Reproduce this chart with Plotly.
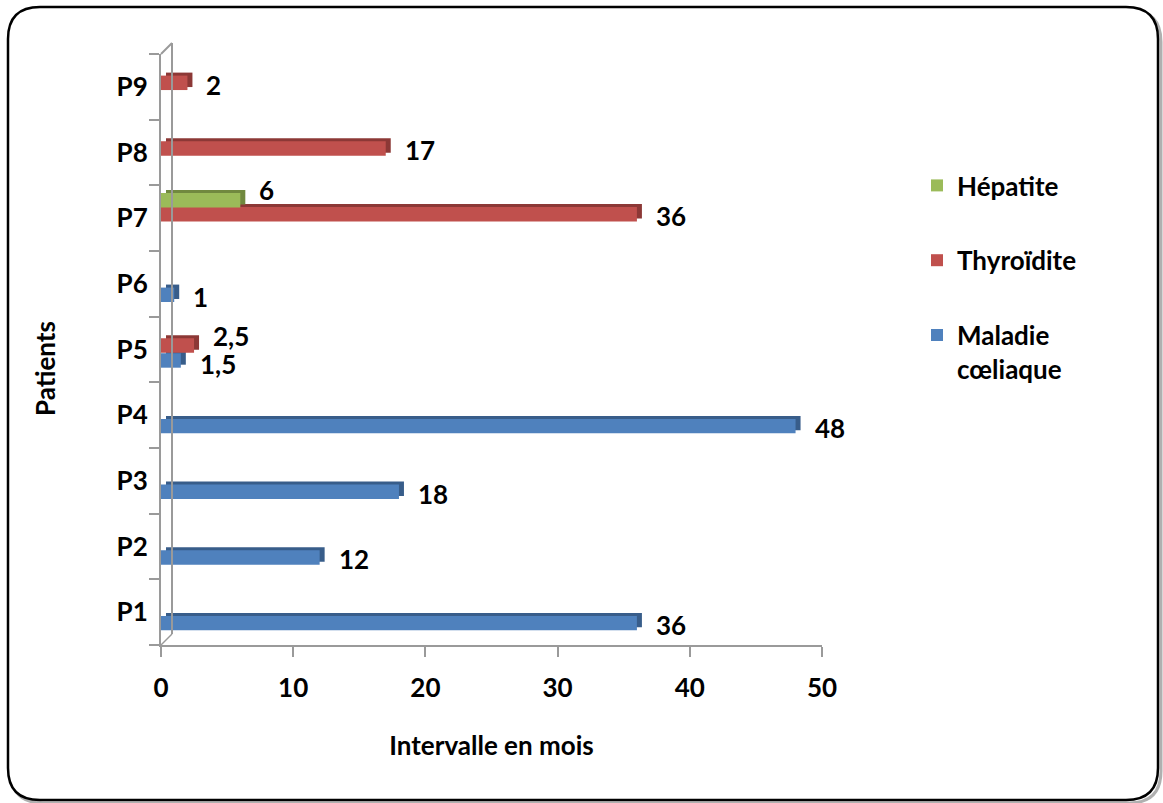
import plotly.graph_objects as go

# ---- data -------------------------------------------------------------
patients = ["P1", "P2", "P3", "P4", "P5", "P6", "P7", "P8", "P9"]
maladie_coeliaque = [36, 12, 18, 48, 1.5, 1, None, None, None]
thyroidite = [None, None, None, None, 2.5, None, 36, 17, 2]
hepatite = [None, None, None, None, None, None, 6, None, None]
x_ticks = [0, 10, 20, 30, 40, 50]

# ---- page geometry (pixels) -------------------------------------------
W, H = 1163, 803
L, R, T, B = 161, 822, 54, 645
X_MAX = 50
PX_PER_X = (R - L) / X_MAX
PX_PER_CAT = (B - T) / len(patients)

FONT = "Lato"
FS = 26
AXIS_GREY = "#9a9a9a"

def px_x(px):
    return (px - L) / (R - L)

def px_y(py):
    return (B - py) / (B - T)

BAR_W = 0.22
DEPTH_X = 5 / PX_PER_X          # extrusion to the right, in axis units
DEPTH_Y = 3 / PX_PER_CAT        # extrusion upward, in category units

series = [
    # name, values, face colour, side colour, slot offset, legend rank
    ("Maladie<br>cœliaque", maladie_coeliaque, "#4F81BD", "#385D8A", -0.277, 3),
    ("Thyroïdite", thyroidite, "#C0504D", "#8C3836", -0.049, 2),
    ("Hépatite", hepatite, "#9BBB59", "#71893F", 0.164, 1),
]

fig = go.Figure()

# darker extruded sides, drawn on the shifted base axis underneath
for name, vals, face, side, off, rank in series:
    fig.add_trace(go.Bar(
        y=patients, x=vals, orientation="h",
        marker=dict(color=side, line=dict(width=0)),
        width=BAR_W, offset=off + DEPTH_Y,
        xaxis="x", yaxis="y", showlegend=False, hoverinfo="skip",
    ))

# front faces of the bars on the visible value axis
for name, vals, face, side, off, rank in series:
    fig.add_trace(go.Bar(
        y=patients, x=vals, orientation="h", name=name,
        marker=dict(color=face, line=dict(width=0)),
        width=BAR_W, offset=off, legendrank=rank,
        legendgroup=name,
        xaxis="x2", yaxis="y",
    ))

text_font = dict(family=FONT, size=FS, color="black", weight="bold")

# value labels (decimal comma), placed right of each bar end
label_nudge = {("Hépatite", "P7"): 10, ("Thyroïdite", "P5"): 9, ("Maladie<br>cœliaque", "P5"): -4}
annotations = []
for name, vals, face, side, off, rank in series:
    for i, (p, v) in enumerate(zip(patients, vals)):
        if v is None:
            continue
        annotations.append(dict(
            x=v, y=i + off + BAR_W / 2, xref="x2", yref="y",
            text=f"{v:g}".replace(".", ","),
            showarrow=False, xanchor="left", yanchor="middle",
            xshift=17, yshift=label_nudge.get((name, p), -2),
            font=text_font,
        ))

# category axis title
annotations.append(dict(
    x=px_x(45), y=px_y(369), xref="paper", yref="paper",
    text="Patients", textangle=-90, showarrow=False,
    xanchor="center", yanchor="middle", font=text_font,
))

# chart frame with rounded corners and a soft shadow
def rounded_rect(x0, y0, x1, y1, r):
    return (f"M {px_x(x0 + r)} {px_y(y0)} L {px_x(x1 - r)} {px_y(y0)} "
            f"Q {px_x(x1)} {px_y(y0)} {px_x(x1)} {px_y(y0 + r)} "
            f"L {px_x(x1)} {px_y(y1 - r)} "
            f"Q {px_x(x1)} {px_y(y1)} {px_x(x1 - r)} {px_y(y1)} "
            f"L {px_x(x0 + r)} {px_y(y1)} "
            f"Q {px_x(x0)} {px_y(y1)} {px_x(x0)} {px_y(y1 - r)} "
            f"L {px_x(x0)} {px_y(y0 + r)} "
            f"Q {px_x(x0)} {px_y(y0)} {px_x(x0 + r)} {px_y(y0)} Z")

shapes = [
    dict(type="path", xref="paper", yref="paper",
         path=rounded_rect(11, 10, 1161, 803, 32),
         line=dict(color="#b0b0b0", width=3), layer="below"),
    dict(type="path", xref="paper", yref="paper",
         path=rounded_rect(8, 7, 1158, 800, 32),
         line=dict(color="black", width=2.5), fillcolor="white", layer="below"),
    # side wall behind the category axis
    dict(type="line", xref="paper", yref="paper",
         x0=px_x(172), y0=px_y(43), x1=px_x(172), y1=px_y(634),
         line=dict(color=AXIS_GREY, width=2)),
    dict(type="line", xref="paper", yref="paper",
         x0=px_x(L), y0=px_y(T), x1=px_x(172), y1=px_y(43),
         line=dict(color=AXIS_GREY, width=2)),
    dict(type="line", xref="paper", yref="paper",
         x0=px_x(L), y0=px_y(B), x1=px_x(172), y1=px_y(634),
         line=dict(color=AXIS_GREY, width=1.5)),
]

fig.update_layout(
    width=W, height=H,
    margin=dict(l=L, r=W - R, t=T, b=H - B, pad=0),
    paper_bgcolor="white", plot_bgcolor="rgba(0,0,0,0)",
    barmode="overlay",
    font=dict(family=FONT, size=FS, color="black"),
    xaxis=dict(range=[-DEPTH_X, X_MAX - DEPTH_X], visible=False, fixedrange=True),
    xaxis2=dict(
        overlaying="x", anchor="y", side="bottom",
        range=[0, X_MAX], tickvals=x_ticks, ticks="outside", ticklen=10,
        tickwidth=2, tickcolor=AXIS_GREY, showline=True, linecolor=AXIS_GREY,
        linewidth=2, showgrid=False, zeroline=False, tickfont=text_font,
        ticklabelstandoff=9,
        title=dict(text="Intervalle en mois", font=text_font, standoff=35),
    ),
    yaxis=dict(
        type="category", categoryorder="array", categoryarray=patients,
        range=[-0.5, len(patients) - 0.5], anchor="x",
        ticks="outside", tickson="boundaries", ticklen=10, tickwidth=2,
        tickcolor=AXIS_GREY, showline=True, linecolor=AXIS_GREY, linewidth=2,
        showgrid=False, zeroline=False, tickfont=text_font,
        ticklabelstandoff=6,
    ),
    legend=dict(
        x=px_x(917), y=px_y(162), xanchor="left", yanchor="top",
        font=text_font, tracegroupgap=38, valign="top",
        bgcolor="rgba(0,0,0,0)", itemwidth=30,
    ),
    annotations=annotations,
    shapes=shapes,
    showlegend=True,
)

fig.write_html("out.html")
